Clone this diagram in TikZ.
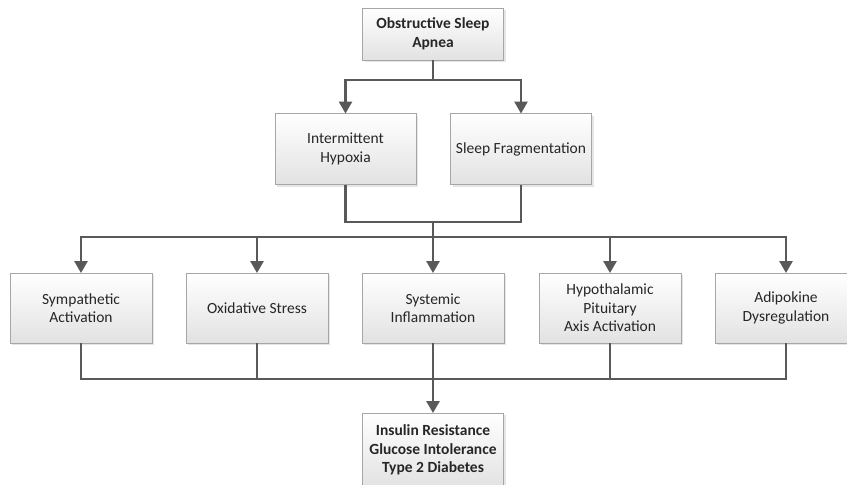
\documentclass[tikz,border=0pt]{standalone}
\usepackage{fontspec}
\setmainfont{Carlito}
\usetikzlibrary{arrows.meta,shadows}
\definecolor{linec}{HTML}{595959}
\definecolor{boxline}{HTML}{A6A6A6}
\definecolor{boxbot}{HTML}{E2E2E2}
\tikzset{
  box/.style={draw=boxline, line width=0.9pt, top color=white, bottom color=boxbot,
    align=center, inner sep=2pt, text=black!85,
    font=\fontsize{15.5}{18.5}\selectfont,
    drop shadow={shadow xshift=2pt, shadow yshift=-2pt, opacity=0.25, fill=black!40}},
  boldbox/.style={box, font=\fontsize{15.5}{18.5}\selectfont\bfseries},
  conn/.style={draw=linec, line width=2.6pt},
  arr/.style={conn, -{Triangle[length=12pt,width=13pt]}, shorten >=-0.5pt},
}
\begin{document}
\begin{tikzpicture}[x=1pt,y=-1pt]
\useasboundingbox (0,0) rectangle (847,485);
\clip (0,0) rectangle (847,485);
\node[boldbox, minimum width=141pt, minimum height=52pt] (osa) at (433,34) {Obstructive Sleep\\Apnea};
\node[box, minimum width=141pt, minimum height=71pt] (ih) at (345.5,149) {Intermittent\\Hypoxia};
\node[box, minimum width=141pt, minimum height=71pt] (sf) at (521,149) {Sleep Fragmentation};
\node[box, minimum width=142pt, minimum height=70pt] (sa) at (81,308) {Sympathetic\\Activation};
\node[box, minimum width=142pt, minimum height=70pt] (os) at (257,308) {Oxidative Stress};
\node[box, minimum width=142pt, minimum height=70pt] (si) at (433,308) {Systemic\\Inflammation};
\node[box, minimum width=142pt, minimum height=70pt] (hp) at (610,308) {Hypothalamic\\Pituitary\\Axis Activation};
\node[box, minimum width=142pt, minimum height=70pt] (ad) at (786,308) {Adipokine\\Dysregulation};
\node[boldbox, minimum width=141pt, minimum height=74pt] (ir) at (433,450) {Insulin Resistance\\Glucose Intolerance\\Type 2 Diabetes};
\coordinate (j1) at (433,80);
\coordinate (j2) at (433,222);
\coordinate (j3) at (433,237);
\coordinate (j4) at (433,379);
\draw[conn] (osa.south) -- (j1);
\draw[arr] (j1) -| (ih.north);
\draw[arr] (j1) -| (sf.north);
\draw[conn] (ih.south) |- (j2);
\draw[conn] (sf.south) |- (j2);
\draw[conn] (j2) -- (j3);
\foreach \n in {sa,os,si,hp,ad}{
  \draw[arr] (j3) -| (\n.north);
  \draw[conn] (\n.south) |- (j4);
}
\draw[arr] (j4) -- (ir.north);
\end{tikzpicture}
\end{document}
